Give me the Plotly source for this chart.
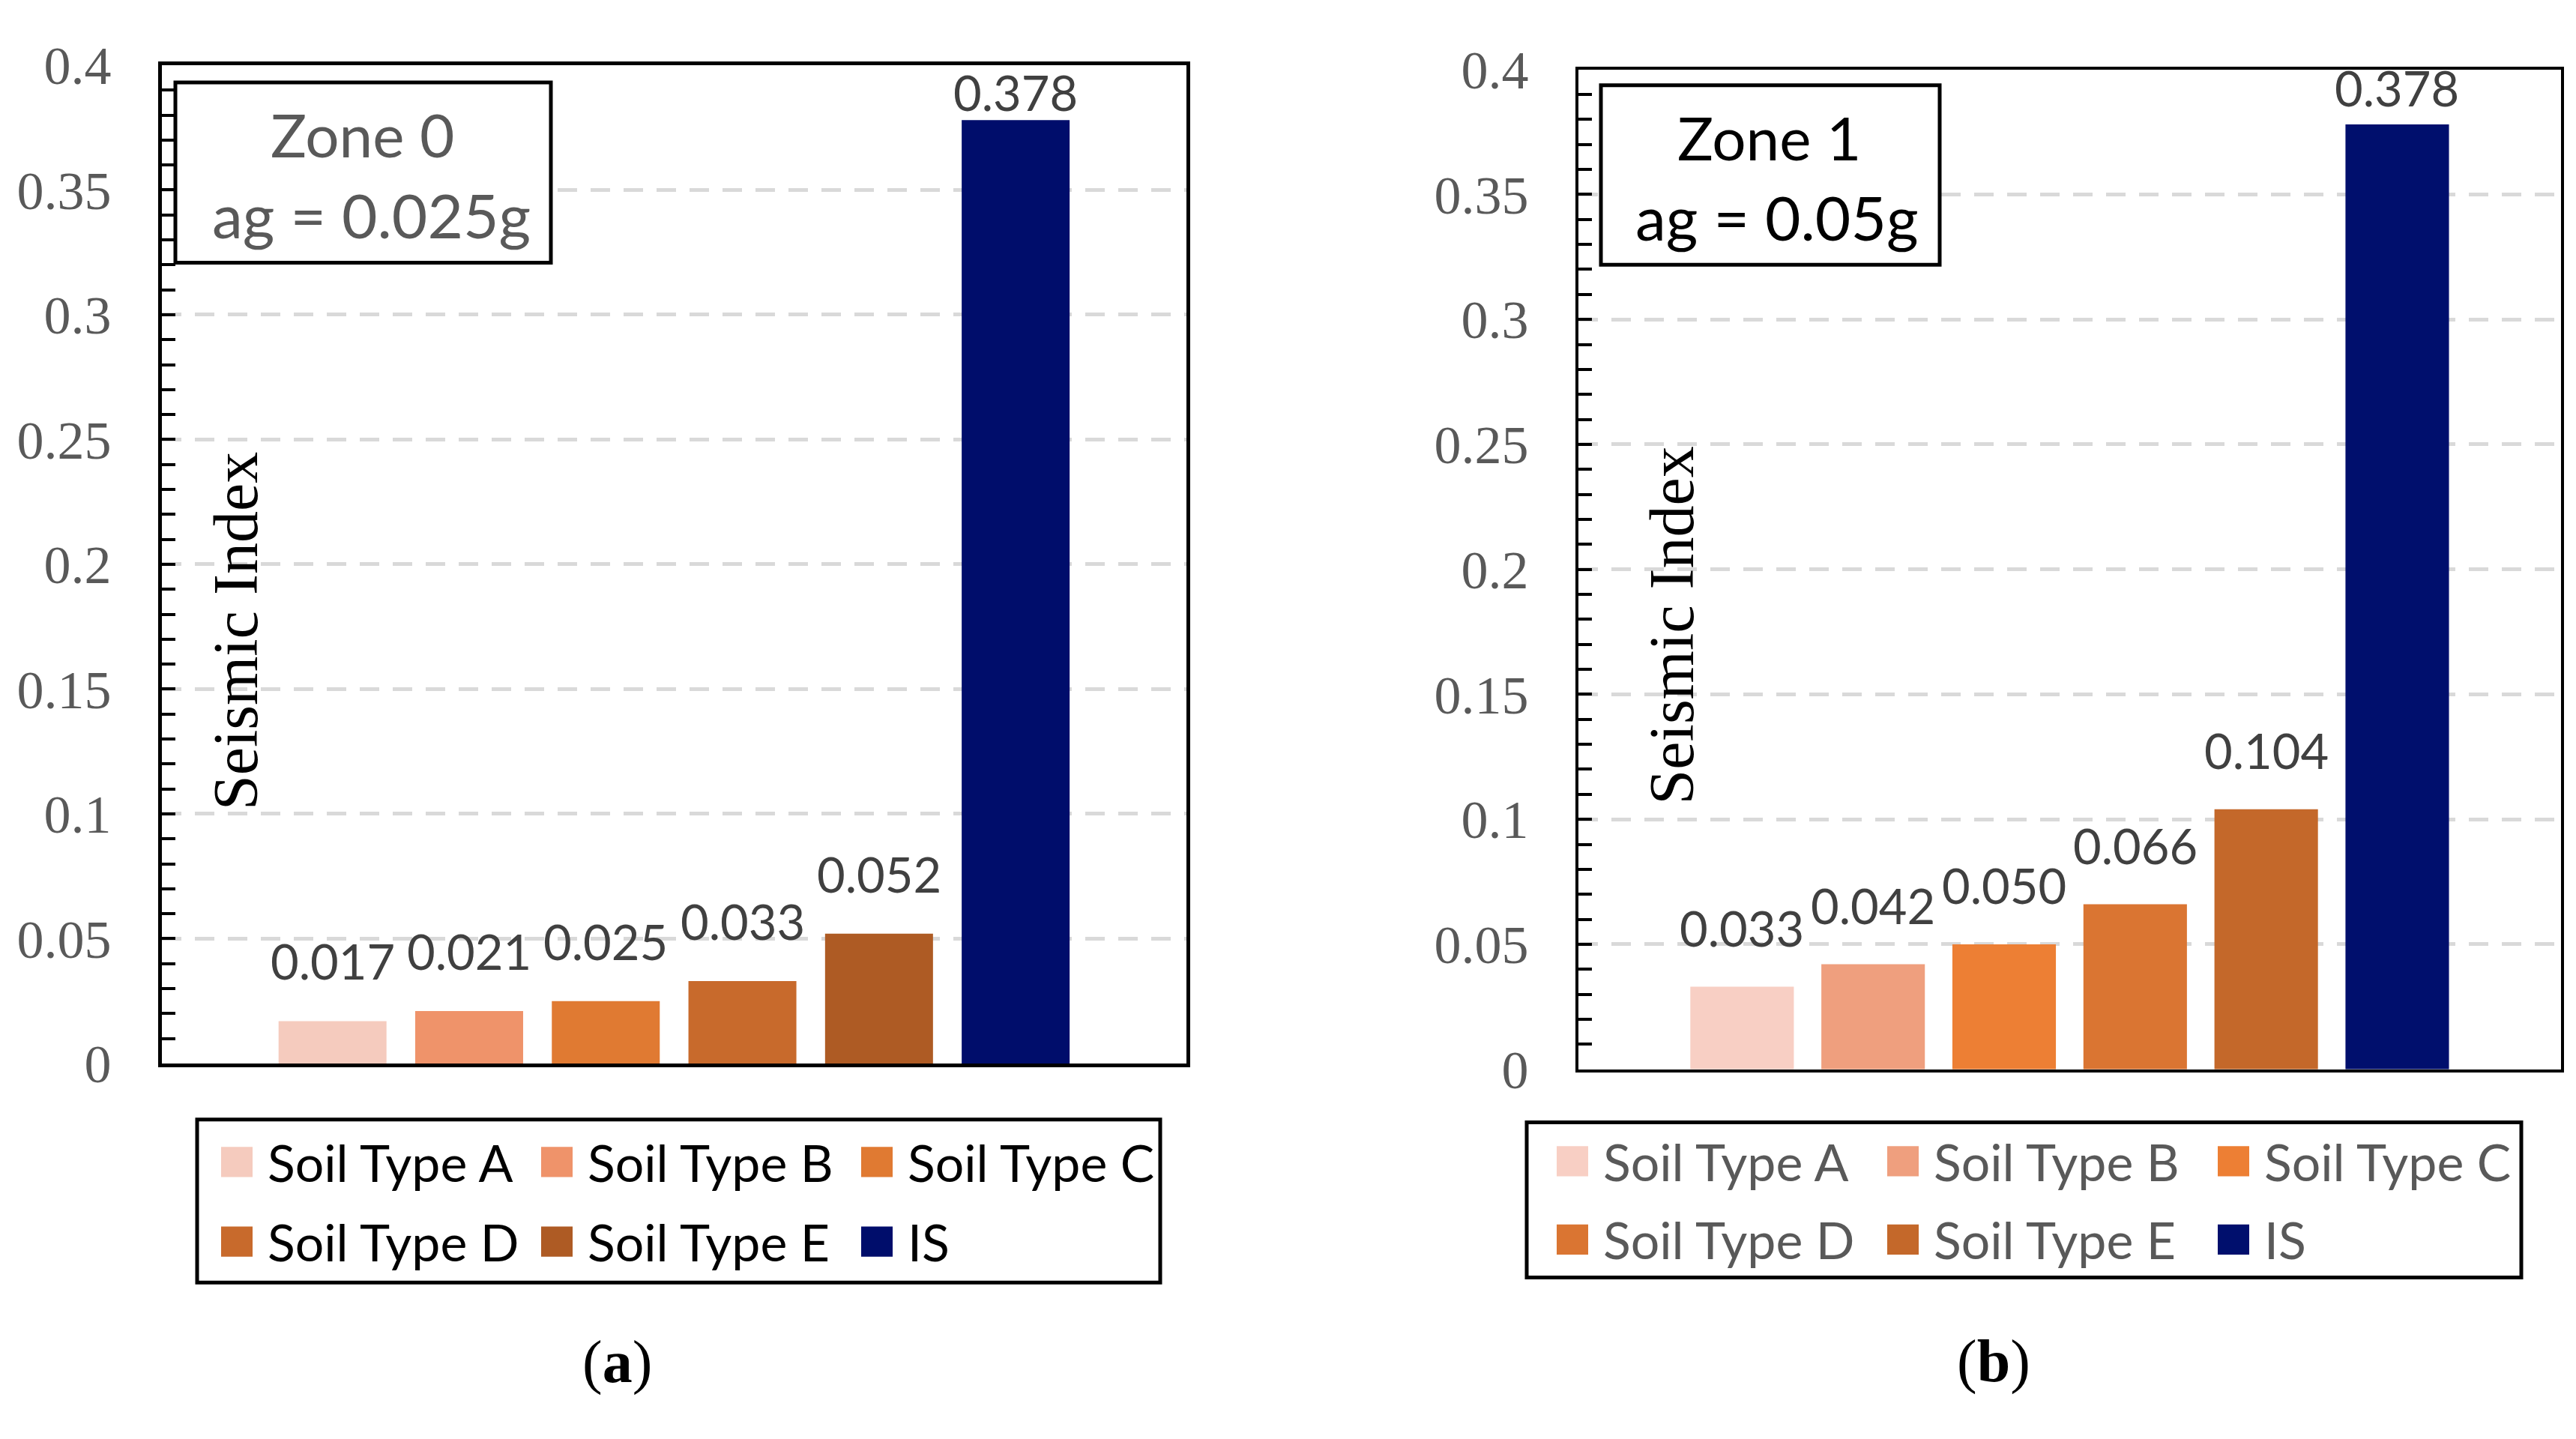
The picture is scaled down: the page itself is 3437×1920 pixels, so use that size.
import plotly.graph_objects as go

# ---------------- data ----------------
series = ["Soil Type A", "Soil Type B", "Soil Type C", "Soil Type D", "Soil Type E", "IS"]
values_zone0 = [0.017, 0.021, 0.025, 0.033, 0.052, 0.378]
values_zone1 = [0.033, 0.042, 0.050, 0.066, 0.104, 0.378]
colors_zone0 = ["#F5CBBE", "#EF936A", "#E07A32", "#C86A2C", "#AE5B24", "#000D6B"]
colors_zone1 = ["#F8CFC4", "#EF9F7E", "#ED7F34", "#DA7532", "#C4682A", "#000F6D"]
ytick_vals = [0, 0.05, 0.1, 0.15, 0.2, 0.25, 0.3, 0.35, 0.4]
ytick_text = ["0", "0.05", "0.1", "0.15", "0.2", "0.25", "0.3", "0.35", "0.4"]
box_zone0 = ["Zone 0", "ag = 0.025g"]
box_zone1 = ["Zone 1", "ag = 0.05g"]
axis_title = "Seismic Index"
panel_labels = ["(<b>a</b>)", "(<b>b</b>)"]

# ---------------- layout helpers ----------------
W, H = 3437, 1920


def fx(px):
    return px / W


def fy(py):
    return 1 - py / H


SERIF = "Liberation Serif, Times New Roman, serif"
SANS = "Lato, Calibri, sans-serif"

panels = [
    dict(xa="x", ya="y", values=values_zone0, colors=colors_zone0,
         xdom=[fx(216), fx(1583)], ydom=[fy(1440), fy(50)], lw=5, tw=4,
         shifts=[80, 80, 80, 80, 80, 37],
         box=(234, 74, 735, 325), box_text=box_zone0, box_color="#595959",
         box_pos=[(483, 146), (495, 258)], title_x=314, title_y=838,
         leg_box=(263, 1518, 1548, 1745), leg_cols=[295, 722, 1149],
         leg_rows=[1577, 1688], leg_color="#000000",
         label=panel_labels[0], label_pos=(823, 1856)),
    dict(xa="x2", ya="y2", values=values_zone1, colors=colors_zone1,
         xdom=[fx(2106), fx(3417)], ydom=[fy(1448), fy(56)], lw=4, tw=3.5,
         shifts=[79, 79, 79, 79, 79, 49],
         box=(2136, 78, 2588, 328), box_text=box_zone1, box_color="#000000",
         box_pos=[(2360, 150), (2371, 261)], title_x=2230, title_y=830,
         leg_box=(2037, 1522, 3364, 1738), leg_cols=[2077, 2518, 2959],
         leg_rows=[1576, 1685], leg_color="#595959",
         label=panel_labels[1], label_pos=(2660, 1855)),
]

fig = go.Figure()
annotations = []
shapes = []
layout_axes = {}

for k, p in enumerate(panels):
    # bars
    for i, (name, v, c) in enumerate(zip(series, p["values"], p["colors"])):
        fig.add_trace(go.Bar(x=[i], y=[v], width=0.79, name=name,
                             marker=dict(color=c, line=dict(width=0)),
                             xaxis=p["xa"], yaxis=p["ya"], showlegend=False,
                             hoverinfo="name+y"))
        annotations.append(dict(x=i, y=v, xref=p["xa"], yref=p["ya"],
                                text=f"{v:.3f}", showarrow=False,
                                yanchor="middle", xanchor="center",
                                yshift=p["shifts"][i],
                                font=dict(family=SANS, size=65, color="#404040")))
    xname = "xaxis" if k == 0 else "xaxis2"
    yname = "yaxis" if k == 0 else "yaxis2"
    layout_axes[xname] = dict(domain=p["xdom"], range=[-1.249, 6.25],
                              anchor=p["ya"], showticklabels=False, ticks="",
                              showgrid=False, zeroline=False,
                              showline=True, linecolor="black", linewidth=p["lw"],
                              mirror=True, fixedrange=True)
    layout_axes[yname] = dict(domain=p["ydom"], range=[0, 0.4], anchor=p["xa"],
                              tickvals=ytick_vals, ticktext=ytick_text,
                              ticks="inside", ticklen=18, tickwidth=p["tw"],
                              tickcolor="black",
                              minor=dict(dtick=0.01, ticks="inside", ticklen=18,
                                         tickwidth=p["tw"], tickcolor="black",
                                         showgrid=False),
                              showgrid=True, gridcolor="#D9D9D9", gridwidth=5,
                              griddash="26px,18px", zeroline=False,
                              showline=True, linecolor="black", linewidth=p["lw"],
                              mirror=True, ticklabelstandoff=48,
                              tickfont=dict(family=SERIF, size=72, color="#595959"),
                              fixedrange=True)

    # zone text box
    x0, y0, x1, y1 = p["box"]
    shapes.append(dict(type="rect", xref="paper", yref="paper",
                       x0=fx(x0), x1=fx(x1), y0=fy(y1), y1=fy(y0),
                       line=dict(color="black", width=5), fillcolor="white",
                       layer="above"))
    for j, (txt, (tx, ty)) in enumerate(zip(p["box_text"], p["box_pos"])):
        annotations.append(dict(x=fx(tx), y=fy(ty), xref="paper", yref="paper",
                                text=txt, showarrow=False, xanchor="center",
                                yanchor="middle",
                                font=dict(family=SANS, size=80 if j == 0 else 82,
                                          color=p["box_color"])))

    # axis title inside the plot
    annotations.append(dict(x=fx(p["title_x"]), y=fy(p["title_y"]), xref="paper",
                            yref="paper", text=axis_title, textangle=-90,
                            showarrow=False, xanchor="center", yanchor="middle",
                            font=dict(family=SERIF, size=84, color="black")))

    # legend (boxed, 2 rows x 3 columns)
    lx0, ly0, lx1, ly1 = p["leg_box"]
    shapes.append(dict(type="rect", xref="paper", yref="paper",
                       x0=fx(lx0), x1=fx(lx1), y0=fy(ly1), y1=fy(ly0),
                       line=dict(color="black", width=5), fillcolor="rgba(0,0,0,0)"))
    for i, (name, c) in enumerate(zip(series, p["colors"])):
        col = p["leg_cols"][i % 3]
        row = p["leg_rows"][i // 3]
        shapes.append(dict(type="rect", xref="paper", yref="paper",
                           x0=fx(col), x1=fx(col + 42), y0=fy(row + 21), y1=fy(row - 21),
                           line=dict(width=0), fillcolor=c))
        annotations.append(dict(x=fx(col + 60), y=fy(row), xref="paper", yref="paper",
                                text=name, showarrow=False, xanchor="left",
                                yanchor="middle",
                                font=dict(family=SANS, size=68, color=p["leg_color"])))

    # panel label
    annotations.append(dict(x=fx(p["label_pos"][0]), y=fy(p["label_pos"][1]),
                            xref="paper", yref="paper", text=p["label"],
                            showarrow=False, xanchor="center", yanchor="middle",
                            font=dict(family=SERIF, size=80, color="black")))

fig.update_layout(
    autosize=True,
    margin=dict(l=0, r=0, t=0, b=0, pad=0),
    paper_bgcolor="white", plot_bgcolor="white",
    barmode="overlay",
    showlegend=False,
    annotations=annotations,
    shapes=shapes,
    **layout_axes,
)

fig.write_html(
    "out.html",
    config={"displayModeBar": False, "responsive": True},
    default_width="100vw",
    default_height="100vh",
    post_script="document.body.style.margin='0';document.body.style.overflow='hidden';"
                "window.dispatchEvent(new Event('resize'));",
)
